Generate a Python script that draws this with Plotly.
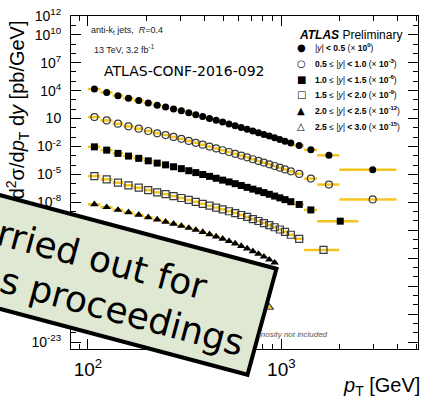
import plotly.graph_objects as go

# ---------------- data ----------------
PT_EDGES = [100, 116, 134, 152, 172, 194, 216, 240, 264, 290, 318, 346, 376, 408, 442,
            478, 516, 556, 598, 642, 688, 736, 786, 838, 894, 952, 1012, 1076, 1162,
            1310, 1530, 1992, 3937]
EDGES_Y1 = PT_EDGES
EDGES_Y2 = PT_EDGES
EDGES_Y3 = PT_EDGES[:31] + [2500]
EDGES_Y4 = PT_EDGES[:30] + [1992]
EDGES_Y5 = PT_EDGES[:26]
EDGES_Y6 = PT_EDGES[:25]

XS_Y1 = [1.45e4, 6.44e3, 2.86e3, 1.48e3, 844, 468, 267, 171, 108, 67.6, 41.4, 26.0, 16.3,
         10.3, 6.44, 4.14, 2.67, 1.71, 1.10, 0.710, 0.457, 0.301, 0.199, 0.131, 0.0863,
         0.0569, 0.0375, 0.0236, 0.0128, 4.35e-3, 1.13e-3, 3.24e-5]
XS_Y2 = [1.42e4, 6.29e3, 2.79e3, 1.45e3, 825, 457, 261, 167, 105, 66.0, 39.5, 24.8, 15.6,
         9.84, 6.15, 3.95, 2.55, 1.63, 1.05, 0.678, 0.426, 0.281, 0.186, 0.122, 0.0805,
         0.0531, 0.0342, 0.0215, 0.0114, 3.54e-3, 8.18e-4, 2.09e-5]
XS_Y3 = [9.12e3, 4.06e3, 1.81e3, 933, 532, 288, 164, 106, 66.4, 41.7, 24.9, 15.7, 9.84,
         6.18, 3.88, 2.44, 1.57, 1.01, 0.650, 0.408, 0.263, 0.173, 0.112, 0.0736, 0.0474,
         0.0305, 0.0197, 0.0118, 5.97e-3, 1.54e-3, 9.55e-5]
XS_Y4 = [6.61e3, 2.94e3, 1.31e3, 676, 377, 209, 119, 76.6, 47.0, 29.5, 18.1, 11.4, 6.97,
         4.38, 2.75, 1.77, 1.11, 0.714, 0.440, 0.270, 0.162, 0.0998, 0.0600, 0.0361,
         0.0212, 0.0122, 6.82e-3, 3.33e-3, 1.22e-3, 7.76e-5]
XS_Y5 = [6.12e3, 3.01e3, 1.55e3, 843, 457, 248, 141, 82.2, 49.1, 29.4, 18.0, 11.0, 6.44,
         3.75, 2.14, 1.22, 0.676, 0.375, 0.204, 0.108, 0.0556, 0.0286, 0.0145, 6.92e-3,
         3.32e-3]
XS_Y6 = [3.94e3, 1.89e3, 906, 468, 236, 122, 61.2, 32.4, 17.1, 9.06, 4.68, 2.42, 1.22,
         0.598, 0.286, 0.134, 0.0612, 0.0267, 0.0110, 4.35e-3, 1.63e-3, 5.83e-4, 1.89e-4,
         5.28e-5]

SCALE = [1, 1e-3, 1e-6, 1e-9, 1e-12, 1e-15]
SERIES_EDGES = [EDGES_Y1, EDGES_Y2, EDGES_Y3, EDGES_Y4, EDGES_Y5, EDGES_Y6]
SERIES_VALUES = [XS_Y1, XS_Y2, XS_Y3, XS_Y4, XS_Y5, XS_Y6]
SYMBOLS = ["circle", "circle-open", "square", "square-open", "triangle-up", "triangle-up-open"]
LEGEND_GLYPHS = ["\u25CF", "\u25CB", "\u25A0", "\u25A1", "\u25B2", "\u25B3"]
LEGEND_LABELS = [
    "<i>|y|</i> <b>&lt; 0.5</b> (\u00d7 <b>10<sup>0</sup></b>)",
    "<b>0.5</b> \u2264 <i>|y|</i> <b>&lt; 1.0</b> (\u00d7 <b>10<sup>-3</sup></b>)",
    "<b>1.0</b> \u2264 <i>|y|</i> <b>&lt; 1.5</b> (\u00d7 <b>10<sup>-6</sup></b>)",
    "<b>1.5</b> \u2264 <i>|y|</i> <b>&lt; 2.0</b> (\u00d7 <b>10<sup>-9</sup></b>)",
    "<b>2.0</b> \u2264 <i>|y|</i> <b>&lt; 2.5</b> (\u00d7 <b>10<sup>-12</sup></b>)",
    "<b>2.5</b> \u2264 <i>|y|</i> <b>&lt; 3.0</b> (\u00d7 <b>10<sup>-15</sup></b>)",
]
Y_TICK_EXP = [-23, -20, -17, -14, -11, -8, -5, -2, 1, 4, 7, 10, 12]
X_TICK_EXP = [2, 3]

# ---------------- layout geometry ----------------
W, H = 425, 400
ML, MR, MT, MB = 71, 6, 13, 51
PW, PH = W - ML - MR, H - MT - MB


def px(x):
    return (x - ML) / PW


def py(y):
    return (H - MB - y) / PH


YELLOW = "#F4C51F"
FONT = "Liberation Sans, Arial, sans-serif"

fig = go.Figure()
for edges, vals, sc, sym in zip(SERIES_EDGES, SERIES_VALUES, SCALE, SYMBOLS):
    lo = edges[:-1]
    hi = edges[1:]
    xc = [(a + b) / 2 for a, b in zip(lo, hi)]
    yv = [v * sc for v in vals]
    open_sym = sym.endswith("open")
    fig.add_trace(go.Scatter(
        x=xc, y=yv, mode="markers", showlegend=False, hoverinfo="skip",
        marker=dict(symbol=sym, size=7 if "triangle" not in sym else 7.5,
                    color="#3a3a3a" if open_sym else "black",
                    line=dict(width=1.2 if open_sym else 0, color="#3a3a3a")),
        error_x=dict(type="data", symmetric=False,
                     array=[b - c for b, c in zip(hi, xc)],
                     arrayminus=[c - a for a, c in zip(lo, xc)],
                     color=YELLOW, thickness=2.5, width=0),
    ))

y_minor = [10.0 ** e for e in range(-24, 13) if e not in Y_TICK_EXP]
x_minor = [90] + [k * 100 for k in range(2, 10)] + [k * 1000 for k in range(2, 6)]

fig.update_layout(
    width=W, height=H,
    margin=dict(l=ML, r=MR, t=MT, b=MB),
    paper_bgcolor="white", plot_bgcolor="white",
    font=dict(family=FONT, color="black"),
    xaxis=dict(type="log", range=[1.9124, 3.7062], showgrid=False, zeroline=False,
               showline=True, linecolor="black", linewidth=1, mirror="allticks",
               ticks="inside", ticklen=10, tickcolor="black",
               tickvals=[10.0 ** e for e in X_TICK_EXP],
               ticktext=["10<sup>%d</sup>" % e for e in X_TICK_EXP],
               tickfont=dict(size=19, family=FONT), ticklabelstandoff=3,
               minor=dict(tickvals=x_minor, ticks="inside", ticklen=5, tickcolor="black",
                          showgrid=False)),
    yaxis=dict(type="log", range=[-23.745, 12.01], showgrid=False, zeroline=False,
               showline=True, linecolor="black", linewidth=1, mirror="allticks",
               ticks="inside", ticklen=10, tickcolor="black",
               tickvals=[10.0 ** e for e in Y_TICK_EXP],
               ticktext=["10" if e == 1 else "10<sup>%d</sup>" % e for e in Y_TICK_EXP],
               tickfont=dict(size=14, family=FONT), ticklabelstandoff=6,
               minor=dict(tickvals=y_minor, ticks="inside", ticklen=5, tickcolor="black",
                          showgrid=False)),
)

ann = []
# axis titles
ann.append(dict(x=px(17), y=py(108), xref="paper", yref="paper", textangle=-90,
                text="d<sup>2</sup>\u03c3/d<i>p</i><sub>T</sub> d<i>y</i> [pb/GeV]",
                showarrow=False, font=dict(size=20, family=FONT),
                xanchor="center", yanchor="middle"))
ann.append(dict(x=px(423), y=py(387), xref="paper", yref="paper",
                text="<i>p</i><sub>T</sub> [GeV]", showarrow=False,
                font=dict(size=20, family=FONT), xanchor="right", yanchor="middle"))
# info texts
ann.append(dict(x=px(89), y=py(28), xref="paper", yref="paper",
                text="anti-k<sub>t</sub> jets,  <i>R</i>=0.4", showarrow=False,
                font=dict(size=9, family=FONT, color="#222"), xanchor="left", yanchor="middle"))
ann.append(dict(x=px(92), y=py(46), xref="paper", yref="paper",
                text="13 TeV, 3.2 fb<sup>-1</sup>", showarrow=False,
                font=dict(size=9, family=FONT, color="#222"), xanchor="left", yanchor="middle"))
ann.append(dict(x=px(184), y=py(68), xref="paper", yref="paper",
                text="ATLAS-CONF-2016-092", showarrow=False,
                font=dict(size=14, family="DejaVu Sans", color="black"),
                xanchor="center", yanchor="middle"))
ann.append(dict(x=px(298), y=py(32), xref="paper", yref="paper",
                text="<b><i>ATLAS</i></b> Preliminary", showarrow=False,
                font=dict(size=12, family=FONT, color="black"), xanchor="left", yanchor="middle"))
for i, (g, lab) in enumerate(zip(LEGEND_GLYPHS, LEGEND_LABELS)):
    yy = 45 + 15.8 * i
    ann.append(dict(x=px(302), y=py(yy), xref="paper", yref="paper", text=g, showarrow=False,
                    font=dict(size=10, family="DejaVu Sans", color="black"),
                    xanchor="center", yanchor="middle"))
    ann.append(dict(x=px(314), y=py(yy), xref="paper", yref="paper", text=lab, showarrow=False,
                    font=dict(size=8.5, family=FONT, color="black"),
                    xanchor="left", yanchor="middle"))
ann.append(dict(x=px(258), y=py(334), xref="paper", yref="paper",
                text="<i>inosity not included</i>", showarrow=False,
                font=dict(size=8, family=FONT, color="#555"), xanchor="left", yanchor="middle"))

# overlay box text
ann.append(dict(x=px(82), y=py(254), xref="paper", yref="paper", textangle=15,
                text="carried out for", showarrow=False,
                font=dict(size=36, family="DejaVu Sans", color="black"),
                xanchor="center", yanchor="middle"))
ann.append(dict(x=px(25), y=py(285), xref="paper", yref="paper", textangle=15,
                text="conferences proceedings", showarrow=False,
                font=dict(size=36, family="DejaVu Sans", color="black"),
                xanchor="center", yanchor="middle"))
fig.update_layout(annotations=ann)

# rotated overlay box
corners = [(-157.7, 151.5), (277, 268), (248, 375), (-186.7, 258.5)]
path = "M " + " L ".join("%.4f %.4f" % (px(a), py(b)) for a, b in corners) + " Z"
fig.add_shape(type="path", path=path, xref="paper", yref="paper", layer="above",
              fillcolor="#DEE8D2", line=dict(color="black", width=4))

fig.write_html("out.html")
